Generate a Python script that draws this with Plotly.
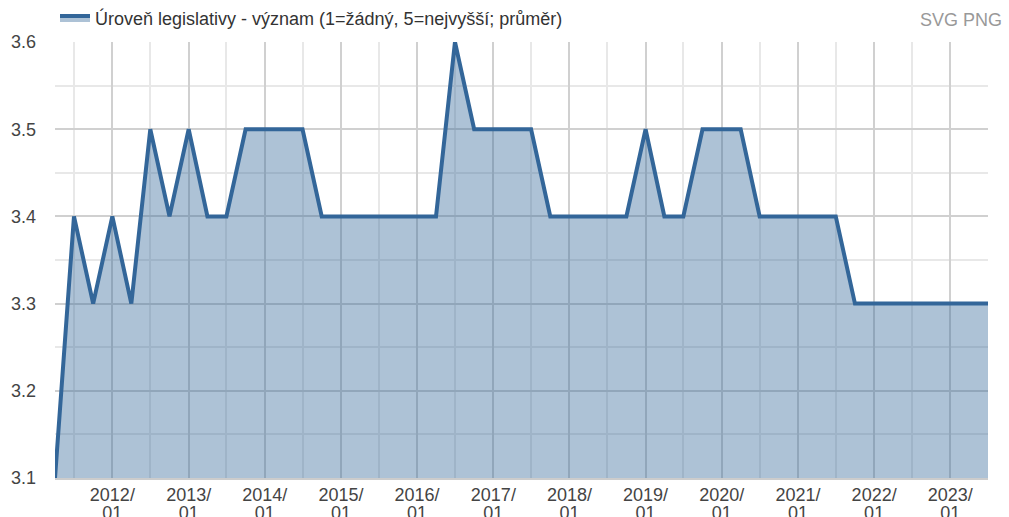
import plotly.graph_objects as go

dates = [
    "2011-04-01", "2011-07-01", "2011-10-01",
    "2012-01-01", "2012-04-01", "2012-07-01", "2012-10-01",
    "2013-01-01", "2013-04-01", "2013-07-01", "2013-10-01",
    "2014-01-01", "2014-04-01", "2014-07-01", "2014-10-01",
    "2015-01-01", "2015-04-01", "2015-07-01", "2015-10-01",
    "2016-01-01", "2016-04-01", "2016-07-01", "2016-10-01",
    "2017-01-01", "2017-04-01", "2017-07-01", "2017-10-01",
    "2018-01-01", "2018-04-01", "2018-07-01", "2018-10-01",
    "2019-01-01", "2019-04-01", "2019-07-01", "2019-10-01",
    "2020-01-01", "2020-04-01", "2020-07-01", "2020-10-01",
    "2021-01-01", "2021-04-01", "2021-07-01", "2021-10-01",
    "2022-01-01", "2022-04-01", "2022-07-01", "2022-10-01",
    "2023-01-01", "2023-04-01", "2023-07-01",
]
values = [
    3.1, 3.4, 3.3,
    3.4, 3.3, 3.5, 3.4,
    3.5, 3.4, 3.4, 3.5,
    3.5, 3.5, 3.5, 3.4,
    3.4, 3.4, 3.4, 3.4,
    3.4, 3.4, 3.6, 3.5,
    3.5, 3.5, 3.5, 3.4,
    3.4, 3.4, 3.4, 3.4,
    3.5, 3.4, 3.4, 3.5,
    3.5, 3.5, 3.4, 3.4,
    3.4, 3.4, 3.4, 3.3,
    3.3, 3.3, 3.3, 3.3,
    3.3, 3.3, 3.3,
]
series_name = "Úroveň legislativy - význam (1=žádný, 5=nejvyšší; průměr)"
year_ticks = [f"{y}-01-01" for y in range(2012, 2024)]
year_labels = [f"{y}/" for y in range(2012, 2024)]
month_labels = ["01" for _ in range(2012, 2024)]
half_ticks = [f"{y}-07-01" for y in range(2011, 2024)]
y_ticks = [3.1, 3.2, 3.3, 3.4, 3.5, 3.6]
x_range = ["2011-04-01", "2023-07-01"]

fig = go.Figure()
fig.add_trace(go.Scatter(
    x=dates, y=values, name=series_name, mode="lines",
    line=dict(color="#336699", width=4),
    fill="tozeroy", fillcolor="rgba(51,102,153,0.4)",
))
# invisible helper trace so the second label row axis is drawn
fig.add_trace(go.Scatter(
    x=[dates[0]], y=[values[0]], xaxis="x2", mode="lines",
    showlegend=False, hoverinfo="skip", line=dict(width=0),
))

font = "Liberation Sans, Arial, sans-serif"
fig.update_layout(
    width=1009, height=517,
    margin=dict(l=55, r=21, t=42, b=39, autoexpand=False),
    paper_bgcolor="white", plot_bgcolor="white",
    font=dict(family=font, size=18, color="#444"),
    showlegend=True,
    legend=dict(x=0, y=1.012, xanchor="left", yanchor="bottom", orientation="h",
                font=dict(size=18, color="#333"), itemwidth=30,
                bgcolor="rgba(0,0,0,0)"),
    xaxis=dict(
        type="date", automargin=False,
        range=x_range,
        tickmode="array", tickvals=year_ticks, ticktext=year_labels,
        showgrid=True, gridcolor="#d0d0d0", gridwidth=1.5,
        minor=dict(tickmode="array", tickvals=half_ticks, showgrid=True,
                   gridcolor="#e8e8e8", gridwidth=1.5),
        showline=True, linecolor="#cccccc", linewidth=1.5,
        ticks="", tickfont=dict(size=18, color="#444"),
        zeroline=False, fixedrange=True,
    ),
    xaxis2=dict(
        type="date", automargin=False, overlaying="x", side="bottom", anchor="y",
        range=x_range,
        tickmode="array", tickvals=year_ticks, ticktext=month_labels,
        showgrid=False, showline=False, zeroline=False,
        ticks="", ticklabelstandoff=22,
        tickfont=dict(size=18, color="#444"), fixedrange=True,
    ),
    yaxis=dict(
        range=[3.1, 3.6], automargin=False,
        tickmode="array", tickvals=y_ticks,
        ticktext=[f"{v:.1f}" for v in y_ticks],
        showgrid=True, gridcolor="#d0d0d0", gridwidth=1.5,
        minor=dict(dtick=0.05, tick0=3.1, showgrid=True, gridcolor="#e8e8e8", gridwidth=1.5),
        showline=False, zeroline=False,
        ticks="", ticklabelstandoff=18,
        tickfont=dict(size=18, color="#444"), fixedrange=True,
    ),
    annotations=[dict(
        text="SVG PNG", xref="paper", yref="paper", x=1.0, y=1.0,
        xanchor="right", yanchor="bottom", yshift=10, xshift=16,
        showarrow=False, font=dict(size=18, color="#999"),
    )],
)

fig.write_html("out.html", config={"displayModeBar": False},
               post_script="document.body.style.margin='0';")
